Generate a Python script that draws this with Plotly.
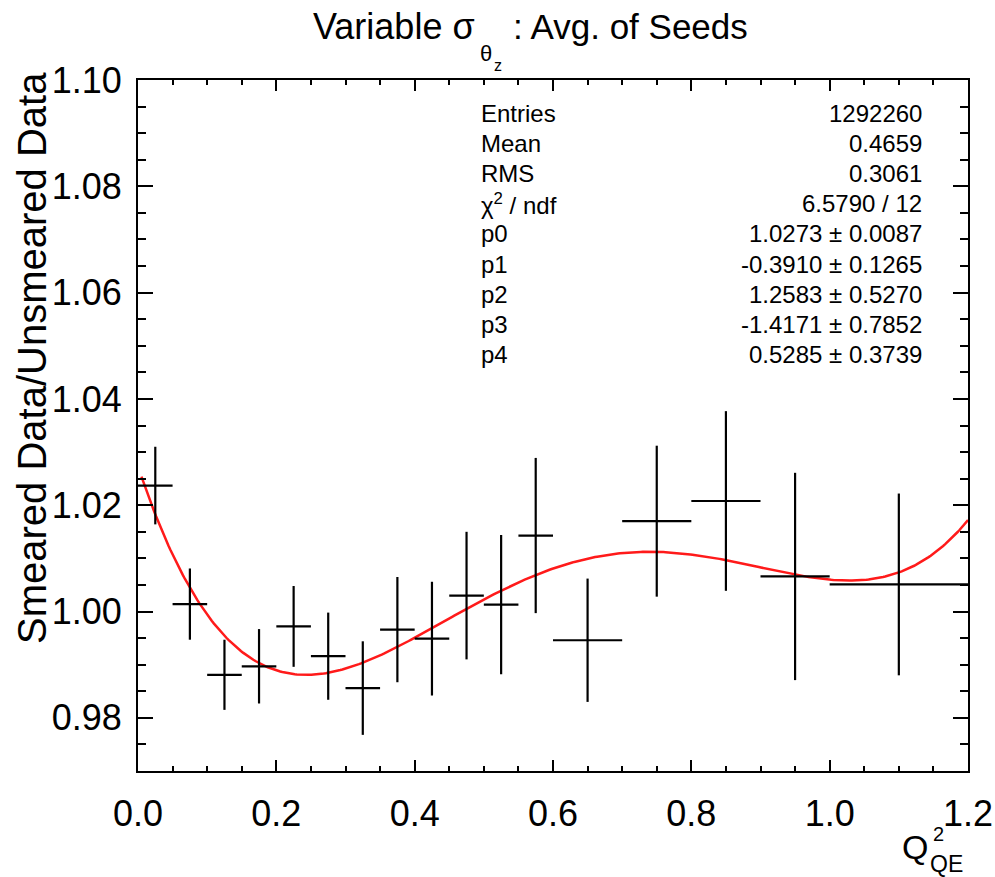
import numpy as np
import plotly.graph_objects as go

# ---- data ----
bin_centers = [0.025, 0.075, 0.125, 0.175, 0.225, 0.275, 0.325, 0.375, 0.425,
               0.475, 0.525, 0.575, 0.65, 0.75, 0.85, 0.95, 1.10]
bin_halfwidths = [0.025, 0.025, 0.025, 0.025, 0.025, 0.025, 0.025, 0.025, 0.025,
                  0.025, 0.025, 0.025, 0.05, 0.05, 0.05, 0.05, 0.10]
ratio = [1.0237, 1.0014, 0.9881, 0.9897, 0.9972, 0.9916, 0.9856, 0.9966, 0.9949,
         1.0030, 1.0013, 1.0143, 0.9946, 1.0170, 1.0208, 1.0066, 1.0051]
ratio_err = [0.0073, 0.0067, 0.0066, 0.0070, 0.0076, 0.0082, 0.0088, 0.0099, 0.0107,
             0.0120, 0.0131, 0.0146, 0.0116, 0.0142, 0.0169, 0.0195, 0.0171]

# 4th-order polynomial fit parameters (p0..p4) printed in the stats box
fit_params = [1.0273, -0.3910, 1.2583, -1.4171, 0.5285]
fit_param_errs = [0.0087, 0.1265, 0.5270, 0.7852, 0.3739]
fit_range = [0.005, 1.2]

stats_labels = ["Entries", "Mean", "RMS", "χ<sup>2</sup> / ndf", "p0", "p1", "p2", "p3", "p4"]
stats_values = ["1292260", "0.4659", "0.3061", "6.5790 / 12",
                "1.0273 ± 0.0087", "-0.3910 ± 0.1265", "1.2583 ± 0.5270",
                "-1.4171 ± 0.7852", "0.5285 ± 0.3739"]

x_range = [0.0, 1.2]
y_range = [0.97, 1.10]

FONT = "Liberation Sans, Arial, Helvetica, sans-serif"

# ---- figure geometry (pixels) ----
W, H = 995, 877
ML, MR, MT, MB = 138, 27, 80, 106
PW, PH = W - ML - MR, H - MT - MB


def px_x(px):
    return (px - ML) / PW


def px_y(py):
    return (H - MB - py) / PH


fig = go.Figure()

# fit curve
xf = np.linspace(fit_range[0], fit_range[1], 400)
yf = np.polynomial.polynomial.polyval(xf, fit_params)
fig.add_trace(go.Scatter(x=xf, y=yf, mode="lines",
                         line=dict(color="#ff1a1a", width=2.5),
                         hoverinfo="skip", showlegend=False))

# histogram points with error bars (ROOT style crosses)
fig.add_trace(go.Scatter(
    x=bin_centers, y=ratio, mode="markers",
    marker=dict(size=1, color="black"),
    error_x=dict(type="data", array=bin_halfwidths, width=0, thickness=2.2, color="black"),
    error_y=dict(type="data", array=ratio_err, width=0, thickness=2.2, color="black"),
    showlegend=False))

annotations = []

# title pieces
annotations += [
    dict(text="Variable σ", x=px_x(311), y=px_y(26), xanchor="left", yanchor="middle",
         font=dict(size=36)),
    dict(text="θ", x=px_x(478), y=px_y(54), xanchor="left", yanchor="middle",
         font=dict(size=22)),
    dict(text="z", x=px_x(492), y=px_y(65), xanchor="left", yanchor="middle",
         font=dict(size=16)),
    dict(text=": Avg. of Seeds", x=px_x(511), y=px_y(26), xanchor="left", yanchor="middle",
         font=dict(size=35)),
]

# y-axis title
annotations.append(dict(text="Smeared Data/Unsmeared Data", textangle=-90,
                        x=px_x(32), y=px_y(358), xanchor="center", yanchor="middle",
                        font=dict(size=40)))

# x-axis title Q^2_QE
annotations += [
    dict(text="Q", x=px_x(900), y=px_y(847), xanchor="left", yanchor="middle",
         font=dict(size=34)),
    dict(text="2", x=px_x(931), y=px_y(834), xanchor="left", yanchor="middle",
         font=dict(size=20)),
    dict(text="QE", x=px_x(928), y=px_y(864), xanchor="left", yanchor="middle",
         font=dict(size=23)),
]

# stats box
row0, dy = 113, 30.2
for i, (lab, val) in enumerate(zip(stats_labels, stats_values)):
    yy = px_y(row0 + i * dy)
    annotations.append(dict(text=lab, x=px_x(479), y=yy, xanchor="left", yanchor="middle",
                            font=dict(size=24)))
    annotations.append(dict(text=val, x=px_x(924), y=yy, xanchor="right", yanchor="middle",
                            font=dict(size=24)))

for a in annotations:
    a.update(xref="paper", yref="paper", showarrow=False)
    a["font"].update(family=FONT, color="black")

axis_common = dict(showline=True, linecolor="black", linewidth=2, mirror="allticks",
                   ticks="inside", tickcolor="black", tickwidth=1.5,
                   showgrid=False, zeroline=False,
                   tickfont=dict(family=FONT, size=36, color="black"))

fig.update_layout(
    width=W, height=H,
    margin=dict(l=ML, r=MR, t=MT, b=MB, autoexpand=False),
    paper_bgcolor="white", plot_bgcolor="white",
    font=dict(family=FONT, color="black"),
    annotations=annotations,
    showlegend=False,
    xaxis=dict(range=x_range, tick0=0, dtick=0.2, tickformat=".1f", ticklen=11,
               ticklabelstandoff=10,
               minor=dict(dtick=0.05, ticklen=5, ticks="inside", tickcolor="black",
                          tickwidth=1.5, showgrid=False),
               **axis_common),
    yaxis=dict(range=y_range, tick0=0.98, dtick=0.02, tickformat=".2f", ticklen=15,
               ticklabelstandoff=7,
               minor=dict(dtick=0.005, ticklen=8, ticks="inside", tickcolor="black",
                          tickwidth=1.5, showgrid=False),
               **axis_common),
)

fig.write_html("out.html")
